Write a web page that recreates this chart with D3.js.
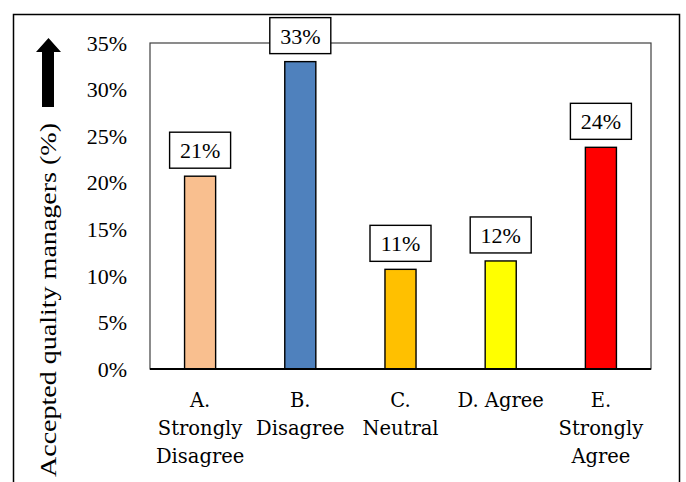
<!DOCTYPE html>
<html>
<head>
<meta charset="utf-8">
<script src="https://cdn.jsdelivr.net/npm/d3@7"></script>
<style>
  html, body { margin: 0; padding: 0; background: #fff; }
  svg { display: block; }
</style>
</head>
<body>
<svg id="chart" width="686" height="482"></svg>
<script>
// Survey responses: share of accepted quality managers per answer
const categories = ["A. Strongly Disagree", "B. Disagree", "C. Neutral", "D. Agree", "E. Strongly Agree"];
const categoryLines = [["A.", "Strongly", "Disagree"], ["B.", "Disagree"], ["C.", "Neutral"], ["D. Agree"], ["E.", "Strongly", "Agree"]];
const shares = [0.207, 0.330, 0.107, 0.116, 0.238];
const barColors = ["#F9BF8F", "#4F81BD", "#FFC000", "#FFFF00", "#FF0000"];
const yTicks = [0, 0.05, 0.10, 0.15, 0.20, 0.25, 0.30, 0.35];
const yTitle = "Accepted quality managers (%)";

const svg = d3.select("#chart");
const plot = { left: 150, right: 651, top: 43, bottom: 369 };
const serif = "'Liberation Serif', 'Times New Roman', serif";
const labelFont = "'DejaVu Serif', Cambria, serif";

// outer frame (runs past the bottom edge)
svg.append("rect")
  .attr("x", 13.5).attr("y", 14.5)
  .attr("width", 666).attr("height", 500)
  .attr("fill", "none").attr("stroke", "#000").attr("stroke-width", 1.5);

const x = d3.scaleBand().domain(categories).range([plot.left, plot.right])
  .paddingInner(0.69).paddingOuter(0.345);
const y = d3.scaleLinear().domain([0, 0.35]).range([plot.bottom, plot.top]);

// plot area border
svg.append("rect")
  .attr("x", plot.left).attr("y", plot.top)
  .attr("width", plot.right - plot.left).attr("height", plot.bottom - plot.top)
  .attr("fill", "none").attr("stroke", "#404040").attr("stroke-width", 1.2);

// bars
svg.append("g").selectAll("rect").data(shares).join("rect")
  .attr("x", (d, i) => x(categories[i]))
  .attr("y", d => y(d))
  .attr("width", x.bandwidth())
  .attr("height", d => y(0) - y(d))
  .attr("fill", (d, i) => barColors[i])
  .attr("stroke", "#000").attr("stroke-width", 1.4);

// x axis baseline
svg.append("line")
  .attr("x1", plot.left).attr("x2", plot.right)
  .attr("y1", plot.bottom).attr("y2", plot.bottom)
  .attr("stroke", "#000").attr("stroke-width", 1.8);

// y axis tick labels
const yAxis = d3.axisLeft(y).tickValues(yTicks).tickFormat(d3.format(".0%")).tickSize(0).tickPadding(0);
const yg = svg.append("g").attr("transform", `translate(127,0)`).call(yAxis);
yg.select(".domain").remove();
yg.selectAll("text")
  .attr("font-family", serif).attr("font-size", 22).attr("fill", "#000")
  .attr("dy", "0.33em");

// category labels
const xg = svg.append("g");
categoryLines.forEach((lines, i) => {
  const cx = x(categories[i]) + x.bandwidth() / 2;
  const t = xg.append("text")
    .attr("text-anchor", "middle")
    .attr("font-family", labelFont).attr("font-size", 19.5).attr("fill", "#000");
  lines.forEach((ln, j) => {
    t.append("tspan").attr("x", cx).attr("y", 407 + j * 28).text(ln);
  });
});

// value call-outs
const boxW = 61, boxH = 36, gap = 8;
const fmt = d3.format(".0%");
const callouts = svg.append("g").selectAll("g").data(shares).join("g")
  .attr("transform", (d, i) => `translate(${x(categories[i]) + x.bandwidth() / 2},${y(d) - gap - boxH})`);
callouts.append("rect")
  .attr("x", -boxW / 2).attr("y", 0).attr("width", boxW).attr("height", boxH)
  .attr("fill", "#fff").attr("stroke", "#000").attr("stroke-width", 1.4);
callouts.append("text")
  .attr("text-anchor", "middle").attr("x", 0).attr("y", 26)
  .attr("font-family", serif).attr("font-size", 22).attr("fill", "#000")
  .text(d => fmt(d));

// y axis title, drawn a little wide
svg.append("text")
  .attr("transform", "translate(56,300) rotate(-90)")
  .attr("text-anchor", "middle")
  .attr("font-family", serif).attr("font-size", 23).attr("fill", "#000")
  .attr("textLength", 354).attr("lengthAdjust", "spacingAndGlyphs")
  .text(yTitle);

// upward arrow above the title
const arrow = d3.path();
arrow.moveTo(42, 107);
arrow.lineTo(42, 52);
arrow.lineTo(36, 52);
arrow.lineTo(48.5, 38);
arrow.lineTo(61, 52);
arrow.lineTo(54, 52);
arrow.lineTo(54, 107);
arrow.closePath();
svg.append("path").attr("d", arrow.toString()).attr("fill", "#000");
</script>
</body>
</html>
